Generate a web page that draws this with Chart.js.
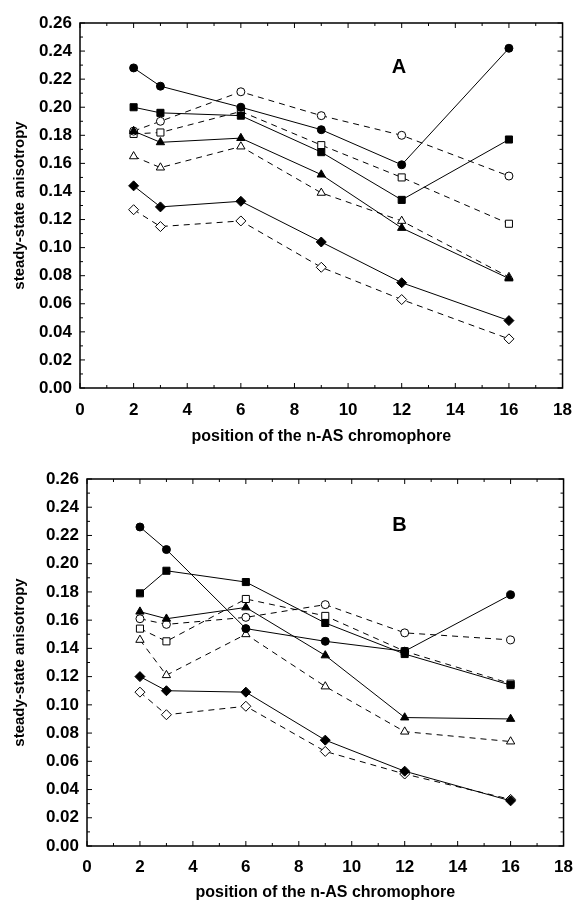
<!DOCTYPE html>
<html>
<head>
<meta charset="utf-8">
<script src="https://cdn.jsdelivr.net/npm/chart.js@4/dist/chart.umd.min.js"></script>
<style>
  body { margin: 0; background: #fff; }
  canvas { display: block; }
</style>
</head>
<body>
<canvas id="chartA" width="584" height="455"></canvas>
<canvas id="chartB" width="584" height="446"></canvas>
<script>
// chromophore positions (x)
const positions = [2, 3, 6, 9, 12, 16];

// panel A
const aFilledCircle   = [0.228, 0.215, 0.200, 0.184, 0.159, 0.242];
const aOpenCircle     = [0.183, 0.190, 0.211, 0.194, 0.180, 0.151];
const aFilledSquare   = [0.200, 0.196, 0.194, 0.168, 0.134, 0.177];
const aOpenSquare     = [0.181, 0.182, 0.197, 0.173, 0.150, 0.117];
const aFilledTriangle = [0.183, 0.175, 0.178, 0.152, 0.114, 0.078];
const aOpenTriangle   = [0.165, 0.157, 0.172, 0.139, 0.119, 0.079];
const aFilledDiamond  = [0.144, 0.129, 0.133, 0.104, 0.075, 0.048];
const aOpenDiamond    = [0.127, 0.115, 0.119, 0.086, 0.063, 0.035];

// panel B
const bFilledCircle   = [0.226, 0.210, 0.154, 0.145, 0.138, 0.178];
const bOpenCircle     = [0.161, 0.157, 0.162, 0.171, 0.151, 0.146];
const bFilledSquare   = [0.179, 0.195, 0.187, 0.158, 0.136, 0.114];
const bOpenSquare     = [0.154, 0.145, 0.175, 0.163, 0.138, 0.115];
const bFilledTriangle = [0.166, 0.161, 0.169, 0.135, 0.091, 0.090];
const bOpenTriangle   = [0.146, 0.121, 0.150, 0.113, 0.081, 0.074];
const bFilledDiamond  = [0.120, 0.110, 0.109, 0.075, 0.053, 0.032];
const bOpenDiamond    = [0.109, 0.093, 0.099, 0.067, 0.051, 0.033];

// ticks
const xTickValues = [0, 2, 4, 6, 8, 10, 12, 14, 16, 18];
const yTickValues = [0, 0.02, 0.04, 0.06, 0.08, 0.10, 0.12, 0.14, 0.16, 0.18, 0.20, 0.22, 0.24, 0.26];
const xMinor = Array.from({ length: 19 }, (_, i) => i);
const yMinor = Array.from({ length: 27 }, (_, i) => i / 100);

const xTitle = 'position of the n-AS chromophore';
const yTitle = 'steady-state anisotropy';

const FONT = '"Liberation Sans", Arial, sans-serif';

// marker styles: [pointStyle, radius, filled, dashed]
const styles = {
  filledCircle:   ['circle', 4, true, false],
  openCircle:     ['circle', 4, false, true],
  filledSquare:   ['rect', 5, true, false],
  openSquare:     ['rect', 5, false, true],
  filledTriangle: ['triangle', 4.8, true, false],
  openTriangle:   ['triangle', 4.8, false, true],
  filledDiamond:  ['rectRot', 5, true, false],
  openDiamond:    ['rectRot', 5, false, true],
};

function makeSet(values, key) {
  const [shape, r, filled, dashed] = styles[key];
  return {
    data: positions.map((x, i) => ({ x: x, y: values[i] })),
    showLine: true,
    borderColor: '#000',
    borderWidth: 1,
    borderDash: dashed ? [6, 5] : [],
    pointStyle: shape,
    pointRadius: r,
    pointBorderWidth: 1,
    pointBorderColor: '#000',
    pointBackgroundColor: filled ? '#000' : '#fff',
    pointHoverRadius: r,
  };
}

// inward ticks on all four sides, frame and panel letter
const frameTicks = {
  id: 'frameTicks',
  afterDatasetsDraw(chart, args, opts) {
    const { ctx, chartArea: a, scales: { x, y } } = chart;
    ctx.save();
    ctx.strokeStyle = '#000';
    ctx.lineWidth = 1;
    ctx.beginPath();
    xMinor.forEach(v => {
      const px = x.getPixelForValue(v);
      const len = v % 2 === 0 ? 5 : 3;
      ctx.moveTo(px, a.bottom); ctx.lineTo(px, a.bottom - len);
      ctx.moveTo(px, a.top); ctx.lineTo(px, a.top + len);
    });
    yMinor.forEach((v, i) => {
      const py = y.getPixelForValue(v);
      const len = i % 2 === 0 ? 5 : 3;
      ctx.moveTo(a.left, py); ctx.lineTo(a.left + len, py);
      ctx.moveTo(a.right, py); ctx.lineTo(a.right - len, py);
    });
    ctx.stroke();
    ctx.lineWidth = 1.5;
    ctx.strokeRect(a.left, a.top, a.right - a.left, a.bottom - a.top);
    ctx.fillStyle = '#000';
    ctx.font = 'bold 20px ' + FONT;
    ctx.textAlign = 'center';
    ctx.textBaseline = 'middle';
    ctx.fillText(opts.label, x.getPixelForValue(opts.lx), y.getPixelForValue(opts.ly));
    ctx.restore();
  }
};

function makeChart(id, sets, o) {
  return new Chart(document.getElementById(id), {
    type: 'scatter',
    data: { datasets: sets },
    options: {
      responsive: false,
      animation: false,
      layout: { padding: { top: o.top, right: o.right, left: 0, bottom: 0 } },
      plugins: {
        legend: { display: false },
        tooltip: { enabled: false },
        frameTicks: { label: o.label, lx: o.lx, ly: o.ly },
      },
      scales: {
        x: {
          type: 'linear', min: 0, max: 18,
          afterFit: s => { s.height = o.xHeight; },
          afterBuildTicks: s => { s.ticks = xTickValues.map(v => ({ value: v })); },
          grid: { display: false, drawTicks: false },
          border: { display: false },
          ticks: { color: '#000', padding: o.xPad, maxRotation: 0, autoSkip: false,
                   font: { family: FONT, size: 17, weight: 'bold' } },
          title: { display: true, text: xTitle, color: '#000',
                   padding: { top: 0, bottom: o.xTitlePad },
                   font: { family: FONT, size: 16, weight: 'bold', lineHeight: 1 } },
        },
        y: {
          type: 'linear', min: 0, max: 0.26,
          afterFit: s => { s.width = o.yWidth; },
          afterBuildTicks: s => { s.ticks = yTickValues.map(v => ({ value: v })); },
          grid: { display: false, drawTicks: false },
          border: { display: false },
          ticks: { color: '#000', padding: 8, autoSkip: false,
                   callback: v => v.toFixed(2),
                   font: { family: FONT, size: 17, weight: 'bold' } },
          title: { display: true, text: yTitle, color: '#000',
                   padding: { top: 12.5, bottom: 0 },
                   font: { family: FONT, size: 15, weight: 'bold', lineHeight: 1 } },
        },
      },
    },
    plugins: [frameTicks],
  });
}

makeChart('chartA', [
  makeSet(aFilledCircle, 'filledCircle'),
  makeSet(aFilledSquare, 'filledSquare'),
  makeSet(aFilledTriangle, 'filledTriangle'),
  makeSet(aFilledDiamond, 'filledDiamond'),
  makeSet(aOpenCircle, 'openCircle'),
  makeSet(aOpenSquare, 'openSquare'),
  makeSet(aOpenTriangle, 'openTriangle'),
  makeSet(aOpenDiamond, 'openDiamond'),
], { top: 23, right: 14, yWidth: 80, xHeight: 67, xPad: 12, xTitlePad: 10,
     label: 'A', lx: 11.9, ly: 0.228 });

makeChart('chartB', [
  makeSet(bFilledCircle, 'filledCircle'),
  makeSet(bFilledSquare, 'filledSquare'),
  makeSet(bFilledTriangle, 'filledTriangle'),
  makeSet(bFilledDiamond, 'filledDiamond'),
  makeSet(bOpenCircle, 'openCircle'),
  makeSet(bOpenSquare, 'openSquare'),
  makeSet(bOpenTriangle, 'openTriangle'),
  makeSet(bOpenDiamond, 'openDiamond'),
], { top: 24, right: 11, yWidth: 87, xHeight: 55, xPad: 11, xTitlePad: 0,
     label: 'B', lx: 11.8, ly: 0.227 });
</script>
</body>
</html>
